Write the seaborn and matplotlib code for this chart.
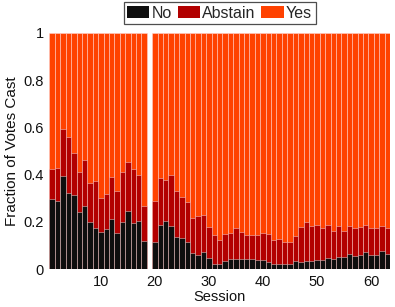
import numpy as np
import pandas as pd
import matplotlib
matplotlib.use("Agg")
import matplotlib.pyplot as plt
import matplotlib.patches as mpatches
import seaborn as sns

sessions = list(range(1, 64))
no = [0.297, 0.290, 0.394, 0.322, 0.316, 0.244, 0.268, 0.200, 0.173, 0.159,
      0.172, 0.211, 0.155, 0.199, 0.246, 0.196, 0.206, 0.120, 0.0, 0.117,
      0.186, 0.204, 0.183, 0.137, 0.131, 0.115, 0.069, 0.059, 0.072, 0.046,
      0.024, 0.022, 0.035, 0.044, 0.044, 0.044, 0.044, 0.042, 0.041, 0.039,
      0.031, 0.024, 0.022, 0.022, 0.024, 0.035, 0.031, 0.035, 0.035, 0.039,
      0.041, 0.048, 0.045, 0.051, 0.051, 0.065, 0.058, 0.060, 0.072, 0.062,
      0.059, 0.077, 0.065]
abstain = [0.127, 0.140, 0.200, 0.239, 0.174, 0.169, 0.195, 0.165, 0.202, 0.144,
           0.148, 0.179, 0.177, 0.211, 0.207, 0.229, 0.193, 0.148, 0.0, 0.172,
           0.200, 0.173, 0.216, 0.195, 0.175, 0.168, 0.148, 0.166, 0.156, 0.131,
           0.121, 0.102, 0.114, 0.109, 0.131, 0.114, 0.102, 0.104, 0.104, 0.114,
           0.118, 0.098, 0.106, 0.092, 0.093, 0.106, 0.148, 0.165, 0.148, 0.148,
           0.135, 0.141, 0.118, 0.132, 0.111, 0.119, 0.118, 0.119, 0.117, 0.114,
           0.116, 0.107, 0.111]
yes = [0.576, 0.570, 0.406, 0.439, 0.510, 0.587, 0.537, 0.635, 0.625, 0.697,
       0.680, 0.610, 0.668, 0.590, 0.547, 0.575, 0.601, 0.732, 0.0, 0.711,
       0.614, 0.623, 0.601, 0.668, 0.694, 0.717, 0.783, 0.775, 0.772, 0.823,
       0.855, 0.876, 0.851, 0.847, 0.825, 0.842, 0.854, 0.854, 0.855, 0.847,
       0.851, 0.878, 0.872, 0.886, 0.883, 0.859, 0.821, 0.800, 0.817, 0.813,
       0.824, 0.811, 0.837, 0.817, 0.838, 0.816, 0.824, 0.821, 0.811, 0.824,
       0.825, 0.816, 0.824]
labels = ["No", "Abstain", "Yes"]
colors = {"No": "#0e0e0e", "Abstain": "#b20000", "Yes": "#ff4200"}

df = pd.DataFrame({"session": sessions, "No": no, "Abstain": abstain, "Yes": yes})
df["top_abstain"] = df["No"] + df["Abstain"]
df["top_yes"] = df["top_abstain"] + df["Yes"]

sns.set_theme(style="white")
plt.rcParams["font.family"] = ["Liberation Sans", "DejaVu Sans"]

fig = plt.figure(figsize=(3.95, 3.07), dpi=100)
ax = fig.add_axes([0.1253, 0.1228, 0.8620, 0.7707])

edge = (1, 0.85, 0.85, 0.55)
for col, key in [("top_yes", "Yes"), ("top_abstain", "Abstain"), ("No", "No")]:
    sns.barplot(data=df, x="session", y=col, native_scale=True, width=1.0,
                color=colors[key], saturation=1, edgecolor=edge, linewidth=0.6,
                ax=ax)

ax.set_xlim(0.5, 63.5)
ax.set_ylim(0, 1)
ax.set_xticks([10, 20, 30, 40, 50, 60])
ax.set_xticklabels(["10", "20", "30", "40", "50", "60"])
ax.set_yticks([0, 0.2, 0.4, 0.6, 0.8, 1.0])
ax.set_yticklabels(["0", "0.2", "0.4", "0.6", "0.8", "1"])
ax.tick_params(axis="both", length=0, labelsize=10.5, pad=4, colors="#111111")
for s in ax.spines.values():
    s.set_visible(False)
ax.set_xlabel("Session", fontsize=10.5, labelpad=1, color="#111111")
ax.set_ylabel("Fraction of Votes Cast", fontsize=11, labelpad=3, color="#111111")

handles = [mpatches.Patch(facecolor=colors[k], edgecolor="none") for k in labels]
leg = fig.legend(handles, labels, loc="upper center", bbox_to_anchor=(0.556, 0.993),
                 ncol=3, fontsize=11.5, frameon=True, fancybox=False,
                 handlelength=1.4, handleheight=0.75, handletextpad=0.15,
                 columnspacing=0.35, borderpad=0.22, borderaxespad=0.0)
leg.get_frame().set_edgecolor("#222222")
leg.get_frame().set_linewidth(0.9)

fig.savefig("out.png", dpi=100)
